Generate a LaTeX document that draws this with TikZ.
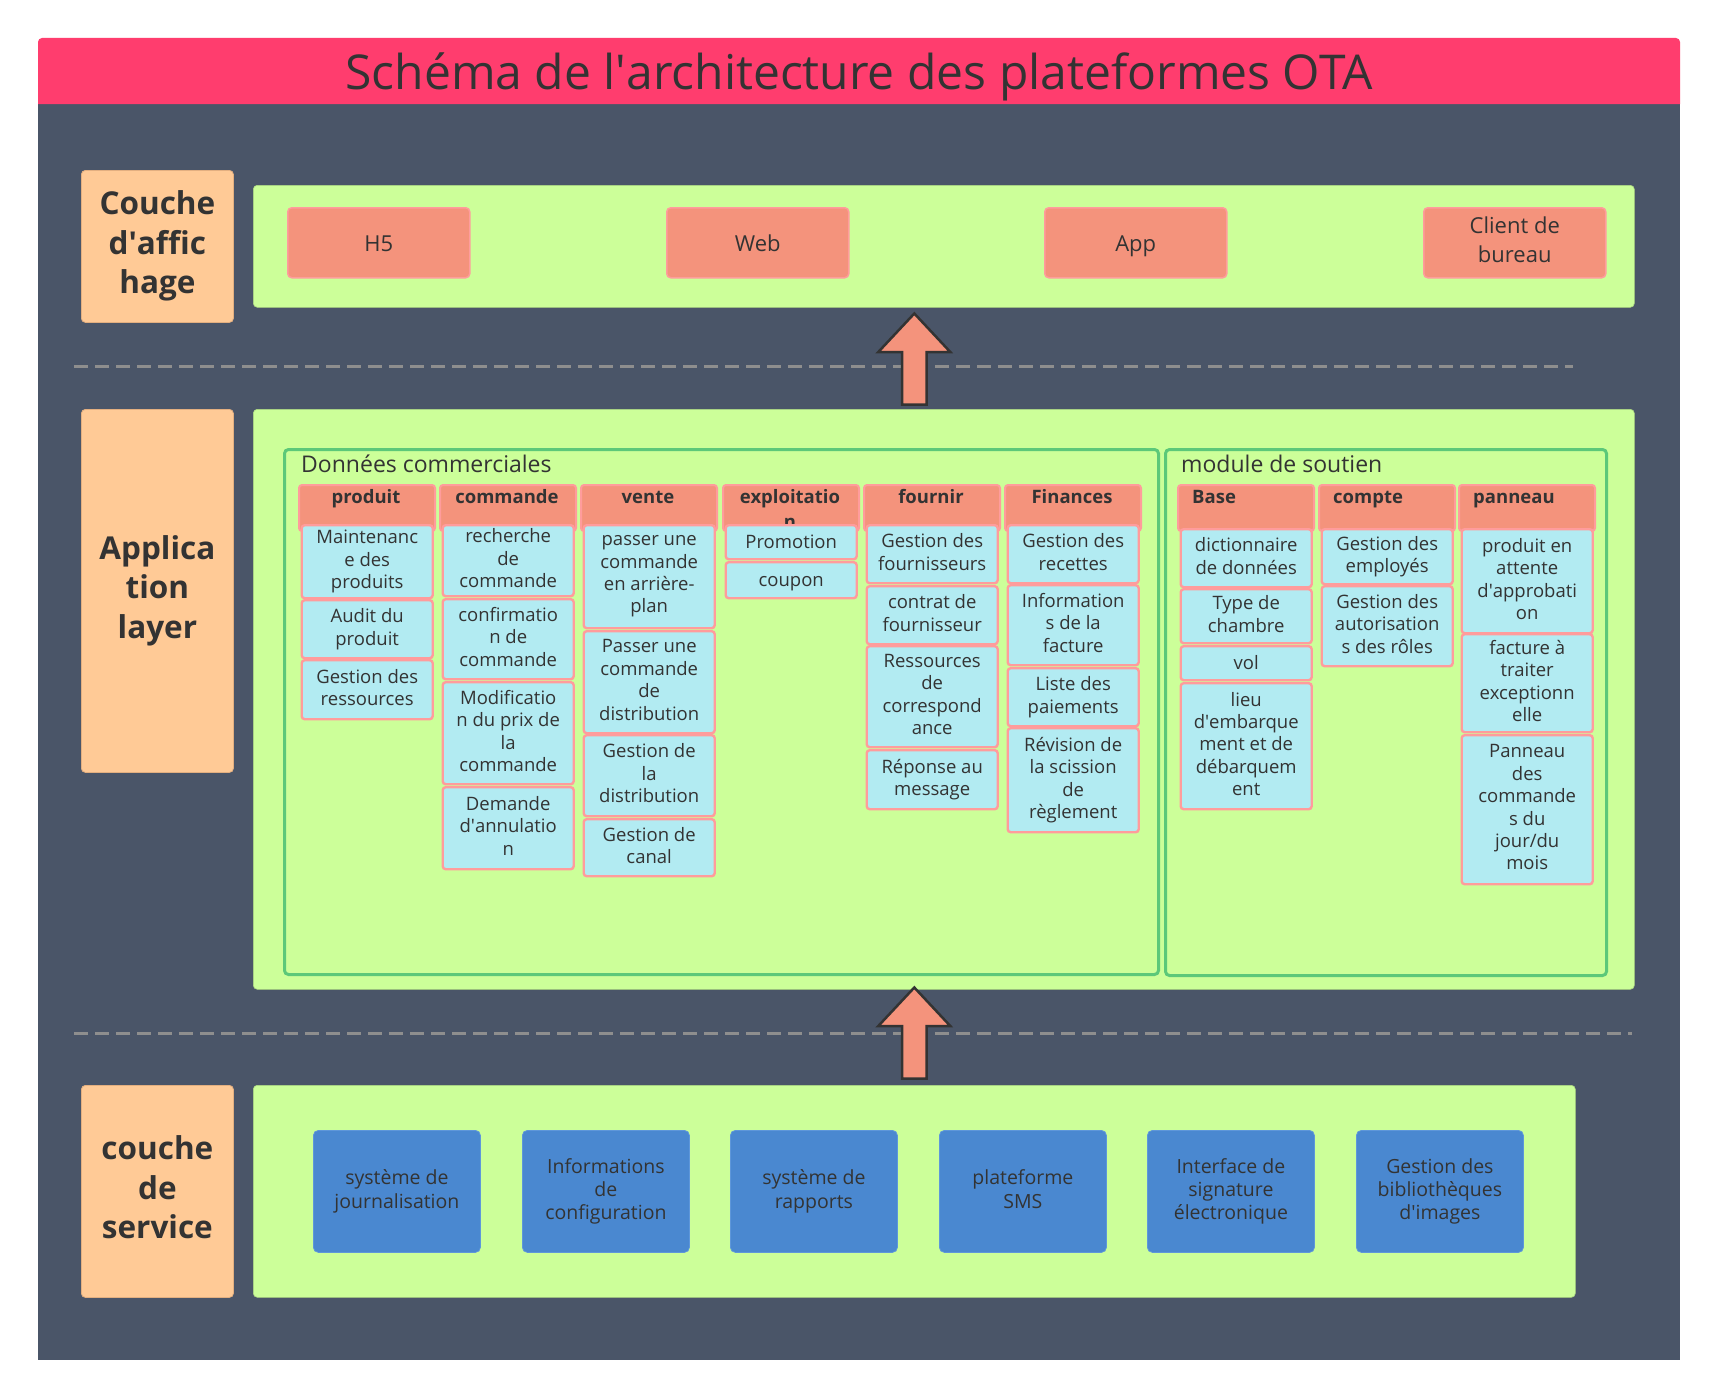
\documentclass[tikz,border=0pt]{standalone}
\usepackage{fontspec}
\setmainfont{Open Sans}
\definecolor{bgdark}{HTML}{4A5568}
\definecolor{titlered}{HTML}{FF3D6E}
\definecolor{peach}{HTML}{FFCA96}
\definecolor{peachb}{HTML}{E3AF80}
\definecolor{lime}{HTML}{CCFF99}
\definecolor{salmon}{HTML}{F4937C}
\definecolor{pinkb}{HTML}{FF9C9C}
\definecolor{itemblue}{HTML}{B2EBF2}
\definecolor{svcblue}{HTML}{4A88D0}
\definecolor{svcb}{HTML}{5E97DA}
\definecolor{txt}{HTML}{333333}
\definecolor{dashgray}{HTML}{8E8E8E}
\definecolor{cgreen}{HTML}{5CC879}
\newcommand\ap{\textquotesingle}
\newcommand\fItem{\fontsize{18.5}{22.4}\selectfont}
\newcommand\fSvc{\fontsize{19.5}{23.2}\selectfont}
\newcommand\fHead{\fontsize{18.5}{22.4}\selectfont\bfseries}
\newcommand\fLabel{\fontsize{31.5}{39.5}\selectfont\bfseries}
\newcommand\fTitle{\fontsize{48}{56}\selectfont}
\newcommand\fDisp{\fontsize{22}{28}\selectfont}
\newcommand\fCont{\fontsize{23}{28}\selectfont}
\newcommand\istrut{\vrule width 0pt height 18pt depth 4.8pt}
\newcommand\dstrut{\vrule width 0pt height 23pt depth 5.4pt}
\newcommand\cstrut{\vrule width 0pt height 21pt depth 5.4pt}
\newcommand\lstrut{\vrule width 0pt height 35pt depth 8pt}
\newcommand\colhd[3]{\node[hdrbox] (#1) at (#2,484) {};
  \node[hdrtxt, anchor=base] (#1-t) at (#2+68,503) {#3};}
\newcommand\colhdl[3]{\node[hdrbox] (#1) at (#2,484) {};
  \node[hdrtxt, anchor=base west] (#1-t) at (#2+15,503) {#3};}
\newcommand\citem[5]{\node[itembox, minimum height={(#4-#3)*1pt}] (#1) at (#2+2.5,#3) {#5};}
\newcommand\blockup[3]{\draw[blockarr] (#2) -- ++(36,38.5) -- ++(-23.7,0) -- ++(0,52.5) -- ++(-24.6,0) -- ++(0,-52.5) -- ++(-23.7,0) -- cycle;}
\begin{document}
\begin{tikzpicture}[x=1pt,y=-1pt,
  band/.style={fill=lime, draw=lime!85!black, line width=0.6pt, rounded corners=4pt, anchor=north west, inner sep=0pt},
  lbl/.style={fill=peach, draw=peachb, line width=0.8pt, rounded corners=4pt, anchor=north west, minimum width=152pt, inner sep=0pt, align=center, font=\fLabel, text=txt, execute at begin node=\lstrut, execute at end node=\lstrut},
  dispbox/.style={fill=salmon, draw=pinkb, line width=1.5pt, rounded corners=4pt, anchor=north west, minimum width=182pt, minimum height=70pt, inner sep=0pt, align=center, font=\fDisp, text=txt, execute at begin node=\dstrut, execute at end node=\dstrut},
  svcbox/.style={fill=svcblue, draw=svcb, line width=0.8pt, rounded corners=5pt, anchor=north west, minimum width=167pt, minimum height=122pt, inner sep=0pt, align=center, font=\fSvc, text=txt, execute at begin node=\istrut, execute at end node=\istrut},
  cont/.style={draw=cgreen, line width=3pt, rounded corners=4pt, anchor=north west, inner sep=0pt},
  conttxt/.style={font=\fCont, text=txt, inner sep=0pt, anchor=base west},
  hdrbox/.style={fill=salmon, draw=pinkb, line width=2pt, rounded corners=3pt, minimum width=136pt, minimum height=46pt, anchor=north west, inner sep=0pt},
  hdrtxt/.style={font=\fHead, text=txt, inner sep=0pt},
  itembox/.style={fill=itemblue, draw=pinkb, line width=2.4pt, rounded corners=3pt, minimum width=131pt, anchor=north west, inner sep=0pt, align=center, font=\fItem, text=txt, execute at begin node=\istrut, execute at end node=\istrut},
  dashln/.style={draw=dashgray, line width=3pt, dash pattern=on 14pt off 7pt},
  blockarr/.style={fill=salmon, draw=txt, line width=2.5pt, line join=miter},
]
\useasboundingbox (0,0) rectangle (1716,1397);
\fill[white] (0,0) rectangle (1716,1397);
% background panel and title bar
\fill[bgdark] (38,104) rectangle (1680,1360);
\fill[titlered] (38,104) [rounded corners=4pt] -- (38,38) -- (1680,38) [sharp corners] -- (1680,104) -- cycle;
\node[font=\fTitle, text=txt, inner sep=0pt, anchor=base] (title) at (859,89) {Schéma de l\ap{}architecture des plateformes OTA};

% dashed separators
\coordinate (d1a) at (74,366); \coordinate (d1b) at (1573,366);
\coordinate (d2a) at (74,1033); \coordinate (d2b) at (1632,1033);
\draw[dashln] (d1a) -- (d1b);
\draw[dashln] (d2a) -- (d2b);

% layer labels
\node[lbl, minimum height=152pt] (Ldisp) at (81,170) {Couche\\d\ap{}affic\\hage};
\node[lbl, minimum height=363pt] (Lapp) at (81,409) {Applica\\tion\\layer};
\node[lbl, minimum height=212pt] (Lsvc) at (81,1085) {couche\\de\\service};

% bands
\node[band, minimum width=1381pt, minimum height=122pt] (Bdisp) at (253,185) {};
\node[band, minimum width=1381pt, minimum height=580pt] (Bapp) at (253,409) {};
\node[band, minimum width=1322pt, minimum height=212pt] (Bsvc) at (253,1085) {};

% display layer
\node[dispbox] (h5) at (287,207) {H5};
\node[dispbox] (web) at (666,207) {Web};
\node[dispbox] (app) at (1044,207) {App};
\node[dispbox, execute at begin node=\cstrut, execute at end node=\cstrut, font=\fontsize{22}{29}\selectfont] (client) at (1423,207) {Client de\\bureau};

% containers
\node[cont, minimum width=874pt, minimum height=525pt] (Cdata) at (283,448) {};
\node[cont, minimum width=441pt, minimum height=526pt] (Csup) at (1164,448) {};
\node[conttxt] (Cdata-t) at (301,472) {Données commerciales};
\node[conttxt] (Csup-t) at (1181,472) {module de soutien};

% column headers
\colhd{Hprod}{298}{produit}
\colhd{Hcmd}{439}{commande}
\colhd{Hvente}{580}{vente}
\node[hdrbox] (Hexp) at (722,484) {};
\node[hdrtxt, anchor=base] (Hexp-t) at (790,503) {exploitatio};
\node[hdrtxt, anchor=base] (Hexp-t2) at (790,528) {n};
\colhd{Hfour}{863}{fournir}
\colhd{Hfin}{1004}{Finances}
\colhdl{Hbase}{1177}{Base}
\colhdl{Hcpt}{1318}{compte}
\colhdl{Hpan}{1458}{panneau}

% items: produit
\citem{p1}{298}{524}{597}{Maintenanc\\e des\\produits}
\citem{p2}{298}{599}{657}{Audit du\\produit}
\citem{p3}{298}{659}{718}{Gestion des\\ressources}
% commande
\citem{c1}{439}{524}{595}{recherche\\de\\commande}
\citem{c2}{439}{598}{678}{confirmatio\\n de\\commande}
\citem{c3}{439}{681}{783}{Modificatio\\n du prix de\\la\\commande}
\citem{c4}{439}{786}{868}{Demande\\d\ap{}annulatio\\n}
% vente
\citem{v1}{580}{524}{627}{passer une\\commande\\en arrière-\\plan}
\citem{v2}{580}{630}{732}{Passer une\\commande\\de\\distribution}
\citem{v3}{580}{734}{815}{Gestion de\\la\\distribution}
\citem{v4}{580}{818}{875}{Gestion de\\canal}
% exploitation
\citem{e1}{722}{524}{558}{Promotion}
\citem{e2}{722}{561}{597}{coupon}
% fournir
\citem{f1}{863}{524}{582}{Gestion des\\fournisseurs}
\citem{f2}{863}{585}{643}{contrat de\\fournisseur}
\citem{f3}{863}{645}{746}{Ressources\\de\\correspond\\ance}
\citem{f4}{863}{749}{808}{Réponse au\\message}
% finances
\citem{n1}{1004}{524}{582}{Gestion des\\recettes}
\citem{n2}{1004}{584}{664}{Information\\s de la\\facture}
\citem{n3}{1004}{667}{725}{Liste des\\paiements}
\citem{n4}{1004}{727}{831}{Révision de\\la scission\\de\\règlement}
% base
\citem{b1}{1177}{528}{586}{dictionnaire\\de données}
\citem{b2}{1177}{588}{642}{Type de\\chambre}
\citem{b3}{1177}{645}{679}{vol}
\citem{b4}{1177}{682}{808}{lieu\\d\ap{}embarque\\ment et de\\débarquem\\ent}
% compte
\citem{k1}{1318}{528}{583}{Gestion des\\employés}
\citem{k2}{1318}{585}{665}{Gestion des\\autorisation\\s des rôles}
% panneau
\citem{q1}{1458}{528}{632}{produit en\\attente\\d\ap{}approbati\\on}
\citem{q2}{1458}{633}{731}{facture à\\traiter\\exceptionn\\elle}
\citem{q3}{1458}{734}{883}{Panneau\\des\\commande\\s du\\jour/du\\mois}

% service layer
\node[svcbox] (s1) at (313,1130) {système de\\journalisation};
\node[svcbox] (s2) at (522,1130) {Informations\\de\\configuration};
\node[svcbox] (s3) at (730,1130) {système de\\rapports};
\node[svcbox] (s4) at (939,1130) {plateforme\\SMS};
\node[svcbox] (s5) at (1147,1130) {Interface de\\signature\\électronique};
\node[svcbox] (s6) at (1356,1130) {Gestion des\\bibliothèques\\d\ap{}images};

% block arrows
\coordinate (a1) at (914.3,313.5);
\coordinate (a2) at (914.3,987.5);
\blockup{A1}{a1}{}
\blockup{A2}{a2}{}
\end{tikzpicture}
\end{document}
